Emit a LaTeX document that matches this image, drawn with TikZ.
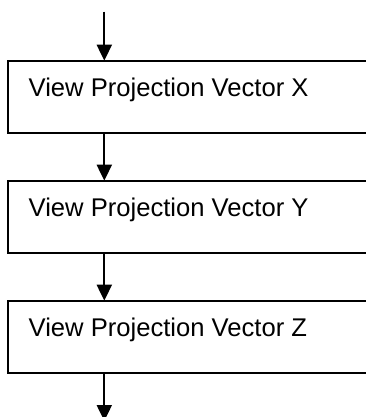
\documentclass[tikz,border=0pt]{standalone}
\usepackage{fontspec}
\setmainfont{Liberation Sans}
\usetikzlibrary{arrows.meta}
\begin{document}
\begin{tikzpicture}[x=1pt,y=-1pt,
  boxshape/.style={draw=black, line width=2pt, anchor=north west, minimum width=370pt, minimum height=72pt, inner sep=0pt, outer sep=0pt},
  label/.style={anchor=base west, inner sep=0pt, font=\fontsize{25.6}{30}\selectfont},
  arr/.style={line width=2pt, -{Triangle[width=15pt,length=16pt]}}]
\useasboundingbox (0,0) rectangle (366,417);
\clip (0,0) rectangle (366,417);
\node[boxshape] (b1) at (8.3,60.7) {};
\node[boxshape] (b2) at (8.3,180.7) {};
\node[boxshape] (b3) at (8.3,300.7) {};
\node[label] (t1) at (28.5,96) {View Projection Vector X};
\node[label] (t2) at (28.5,216) {View Projection Vector Y};
\node[label] (t3) at (28.5,336) {View Projection Vector Z};
\coordinate (top) at (104.3,11.7);
\coordinate (bot) at (104.3,421);
\draw[arr] (top) -- (top |- b1.north);
\draw[arr] (b1.south -| top) -- (b2.north -| top);
\draw[arr] (b2.south -| top) -- (b3.north -| top);
\draw[arr] (b3.south -| top) -- (bot);
\end{tikzpicture}
\end{document}
